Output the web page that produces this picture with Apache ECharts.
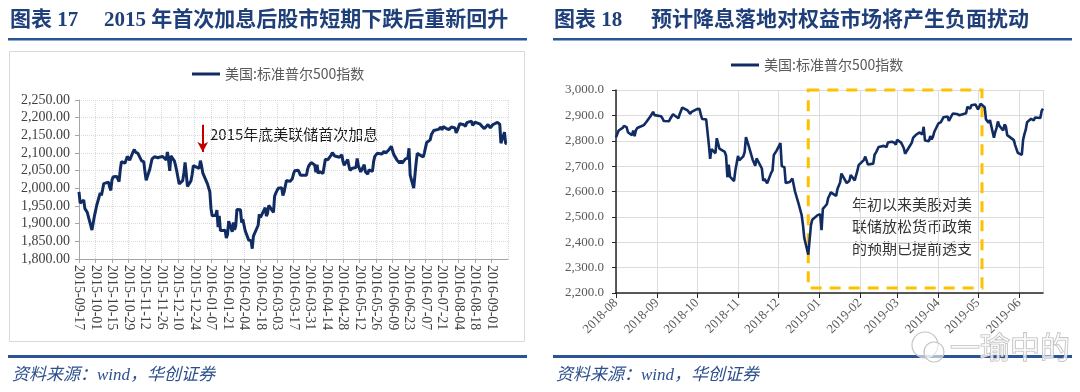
<!DOCTYPE html>
<html><head><meta charset="utf-8">
<script src="https://cdn.jsdelivr.net/npm/echarts@6/dist/echarts.min.js"></script>
<style>html,body{margin:0;padding:0;background:#fff}#c{width:1080px;height:392px}</style>
</head><body><div id="c"></div>
<script>
// ---------------- data ----------------
const seriesName = '美国:标准普尔500指数';
const leftTitleNo = '图表 17';
const leftTitle = '2015 年首次加息后股市短期下跌后重新回升';
const rightTitleNo = '图表 18';
const rightTitle = '预计降息落地对权益市场将产生负面扰动';
const sourceText = '资料来源：wind，华创证券';
const leftNote = '2015年底美联储首次加息';
const rightNote = ['年初以来美股对美', '联储放松货币政策', '的预期已提前透支'];
const watermark = '一瑜中的';

const leftStart = '2015-09-17';
const leftDates = ['2015-09-17','2015-09-18','2015-09-21','2015-09-22','2015-09-23','2015-09-24','2015-09-25','2015-09-28','2015-09-29','2015-09-30',
'2015-10-01','2015-10-02','2015-10-05','2015-10-06','2015-10-07','2015-10-08','2015-10-09','2015-10-12','2015-10-13','2015-10-14','2015-10-15','2015-10-16','2015-10-19','2015-10-20','2015-10-21','2015-10-22','2015-10-23','2015-10-26','2015-10-27','2015-10-28','2015-10-29','2015-10-30',
'2015-11-02','2015-11-03','2015-11-04','2015-11-05','2015-11-06','2015-11-09','2015-11-10','2015-11-11','2015-11-12','2015-11-13','2015-11-16','2015-11-17','2015-11-18','2015-11-19','2015-11-20','2015-11-23','2015-11-24','2015-11-25','2015-11-27','2015-11-30',
'2015-12-01','2015-12-02','2015-12-03','2015-12-04','2015-12-07','2015-12-08','2015-12-09','2015-12-10','2015-12-11','2015-12-14','2015-12-15','2015-12-16','2015-12-17','2015-12-18','2015-12-21','2015-12-22','2015-12-23','2015-12-24','2015-12-28','2015-12-29','2015-12-30','2015-12-31',
'2016-01-04','2016-01-05','2016-01-06','2016-01-07','2016-01-08','2016-01-11','2016-01-12','2016-01-13','2016-01-14','2016-01-15','2016-01-19','2016-01-20','2016-01-21','2016-01-22','2016-01-25','2016-01-26','2016-01-27','2016-01-28','2016-01-29',
'2016-02-01','2016-02-02','2016-02-03','2016-02-04','2016-02-05','2016-02-08','2016-02-09','2016-02-10','2016-02-11','2016-02-12','2016-02-16','2016-02-17','2016-02-18','2016-02-19','2016-02-22','2016-02-23','2016-02-24','2016-02-25','2016-02-26','2016-02-29',
'2016-03-01','2016-03-02','2016-03-03','2016-03-04','2016-03-07','2016-03-08','2016-03-09','2016-03-10','2016-03-11','2016-03-14','2016-03-15','2016-03-16','2016-03-17','2016-03-18','2016-03-21','2016-03-22','2016-03-23','2016-03-24','2016-03-28','2016-03-29','2016-03-30','2016-03-31',
'2016-04-01','2016-04-04','2016-04-05','2016-04-06','2016-04-07','2016-04-08','2016-04-11','2016-04-12','2016-04-13','2016-04-14','2016-04-15','2016-04-18','2016-04-19','2016-04-20','2016-04-21','2016-04-22','2016-04-25','2016-04-26','2016-04-27','2016-04-28','2016-04-29',
'2016-05-02','2016-05-03','2016-05-04','2016-05-05','2016-05-06','2016-05-09','2016-05-10','2016-05-11','2016-05-12','2016-05-13','2016-05-16','2016-05-17','2016-05-18','2016-05-19','2016-05-20','2016-05-23','2016-05-24','2016-05-25','2016-05-26','2016-05-27','2016-05-31',
'2016-06-01','2016-06-02','2016-06-03','2016-06-06','2016-06-07','2016-06-08','2016-06-09','2016-06-10','2016-06-13','2016-06-14','2016-06-15','2016-06-16','2016-06-17','2016-06-20','2016-06-21','2016-06-22','2016-06-23','2016-06-24','2016-06-27','2016-06-28','2016-06-29','2016-06-30',
'2016-07-01','2016-07-05','2016-07-06','2016-07-07','2016-07-08','2016-07-11','2016-07-12','2016-07-13','2016-07-14','2016-07-15','2016-07-18','2016-07-19','2016-07-20','2016-07-21','2016-07-22','2016-07-25','2016-07-26','2016-07-27','2016-07-28','2016-07-29',
'2016-08-01','2016-08-02','2016-08-03','2016-08-04','2016-08-05','2016-08-08','2016-08-09','2016-08-10','2016-08-11','2016-08-12','2016-08-15','2016-08-16','2016-08-17','2016-08-18','2016-08-19','2016-08-22','2016-08-23','2016-08-24','2016-08-25','2016-08-26','2016-08-29','2016-08-30','2016-08-31',
'2016-09-01','2016-09-02','2016-09-06','2016-09-07','2016-09-08','2016-09-09','2016-09-12','2016-09-13','2016-09-14'];
const leftValues = [1990.2,1958.0,1967.0,1942.7,1938.8,1932.2,1931.3,1881.8,1884.1,1920.0,
1923.8,1951.4,1987.1,1979.9,1995.8,2013.4,2014.9,2017.5,2003.7,1994.2,2023.9,2033.1,2033.7,2030.8,2018.9,2052.5,2075.2,2071.2,2065.9,2090.4,2089.4,2079.4,
2104.1,2109.8,2102.3,2099.9,2099.2,2078.6,2081.7,2075.0,2046.0,2023.0,2053.2,2050.4,2083.6,2081.2,2089.2,2086.6,2089.1,2088.9,2090.1,2080.4,
2102.6,2079.5,2049.6,2091.7,2077.1,2063.6,2047.6,2052.2,2012.4,2021.9,2043.4,2073.1,2041.9,2005.6,2021.2,2039.0,2064.3,2061.0,2056.5,2078.4,2063.4,2043.9,
2012.7,2016.7,1990.3,1943.1,1922.0,1923.7,1938.7,1890.3,1921.8,1880.3,1881.3,1859.3,1869.0,1906.9,1877.1,1903.6,1883.0,1893.4,1940.2,
1939.4,1903.0,1912.5,1915.5,1880.1,1853.4,1852.2,1851.9,1829.1,1864.8,1895.6,1926.8,1917.8,1917.8,1945.5,1921.3,1929.8,1951.7,1948.1,1932.2,
1978.4,1986.5,1993.4,2000.0,2001.8,1979.3,1989.3,1989.6,2022.2,2019.6,2015.9,2027.2,2040.6,2049.6,2051.6,2049.8,2036.7,2035.9,2037.1,2055.0,2064.0,2059.7,
2072.8,2066.1,2045.2,2066.7,2041.9,2047.6,2042.0,2061.7,2082.4,2082.8,2080.7,2094.3,2100.8,2102.4,2091.5,2091.6,2087.8,2091.7,2095.2,2075.8,2065.3,
2081.4,2063.4,2051.1,2050.6,2057.1,2058.7,2084.4,2064.5,2064.1,2046.6,2066.7,2047.2,2047.6,2040.0,2052.3,2048.0,2076.1,2090.5,2090.1,2099.1,2097.0,
2099.3,2105.3,2099.1,2109.4,2112.1,2119.1,2115.5,2096.1,2079.1,2075.3,2071.5,2078.0,2071.2,2083.3,2088.9,2085.5,2113.3,2037.4,2000.5,2036.1,2070.8,2098.9,
2103.0,2088.6,2099.7,2097.9,2129.9,2137.2,2152.1,2152.4,2163.8,2161.7,2166.9,2163.8,2173.0,2165.2,2175.0,2168.5,2169.2,2166.6,2170.1,2173.6,
2170.8,2157.0,2163.8,2164.3,2182.9,2180.9,2181.7,2175.5,2185.8,2184.1,2190.2,2178.2,2182.2,2187.0,2183.9,2182.6,2186.9,2175.4,2172.5,2169.0,2180.4,2176.1,2171.0,
2170.9,2180.0,2186.5,2186.2,2181.3,2127.8,2159.0,2127.0,2125.8];

const rightDates = ['2018-08-01','2018-08-02','2018-08-03','2018-08-06','2018-08-07','2018-08-08','2018-08-09','2018-08-10','2018-08-13','2018-08-14','2018-08-15','2018-08-16','2018-08-17','2018-08-20','2018-08-21','2018-08-22','2018-08-23','2018-08-24','2018-08-27','2018-08-28','2018-08-29','2018-08-30','2018-08-31',
'2018-09-04','2018-09-05','2018-09-06','2018-09-07','2018-09-10','2018-09-11','2018-09-12','2018-09-13','2018-09-14','2018-09-17','2018-09-18','2018-09-19','2018-09-20','2018-09-21','2018-09-24','2018-09-25','2018-09-26','2018-09-27','2018-09-28',
'2018-10-01','2018-10-02','2018-10-03','2018-10-04','2018-10-05','2018-10-08','2018-10-09','2018-10-10','2018-10-11','2018-10-12','2018-10-15','2018-10-16','2018-10-17','2018-10-18','2018-10-19','2018-10-22','2018-10-23','2018-10-24','2018-10-25','2018-10-26','2018-10-29','2018-10-30','2018-10-31',
'2018-11-01','2018-11-02','2018-11-05','2018-11-06','2018-11-07','2018-11-08','2018-11-09','2018-11-12','2018-11-13','2018-11-14','2018-11-15','2018-11-16','2018-11-19','2018-11-20','2018-11-21','2018-11-23','2018-11-26','2018-11-27','2018-11-28','2018-11-29','2018-11-30',
'2018-12-03','2018-12-04','2018-12-06','2018-12-07','2018-12-10','2018-12-11','2018-12-12','2018-12-13','2018-12-14','2018-12-17','2018-12-18','2018-12-19','2018-12-20','2018-12-21','2018-12-24','2018-12-26','2018-12-27','2018-12-28','2018-12-31',
'2019-01-02','2019-01-03','2019-01-04','2019-01-07','2019-01-08','2019-01-09','2019-01-10','2019-01-11','2019-01-14','2019-01-15','2019-01-16','2019-01-17','2019-01-18','2019-01-22','2019-01-23','2019-01-24','2019-01-25','2019-01-28','2019-01-29','2019-01-30','2019-01-31',
'2019-02-01','2019-02-04','2019-02-05','2019-02-06','2019-02-07','2019-02-08','2019-02-11','2019-02-12','2019-02-13','2019-02-14','2019-02-15','2019-02-19','2019-02-20','2019-02-21','2019-02-22','2019-02-25','2019-02-26','2019-02-27','2019-02-28',
'2019-03-01','2019-03-04','2019-03-05','2019-03-06','2019-03-07','2019-03-08','2019-03-11','2019-03-12','2019-03-13','2019-03-14','2019-03-15','2019-03-18','2019-03-19','2019-03-20','2019-03-21','2019-03-22','2019-03-25','2019-03-26','2019-03-27','2019-03-28','2019-03-29',
'2019-04-01','2019-04-02','2019-04-03','2019-04-04','2019-04-05','2019-04-08','2019-04-09','2019-04-10','2019-04-11','2019-04-12','2019-04-15','2019-04-16','2019-04-17','2019-04-18','2019-04-22','2019-04-23','2019-04-24','2019-04-25','2019-04-26','2019-04-29','2019-04-30',
'2019-05-01','2019-05-02','2019-05-03','2019-05-06','2019-05-07','2019-05-08','2019-05-09','2019-05-10','2019-05-13','2019-05-14','2019-05-15','2019-05-16','2019-05-17','2019-05-20','2019-05-21','2019-05-22','2019-05-23','2019-05-24','2019-05-28','2019-05-29','2019-05-30','2019-05-31',
'2019-06-03','2019-06-04','2019-06-05','2019-06-06','2019-06-07','2019-06-10','2019-06-11','2019-06-12','2019-06-13','2019-06-14','2019-06-17','2019-06-18','2019-06-19'];
const rightValues = [2813.4,2827.2,2840.4,2850.4,2858.5,2857.7,2853.6,2833.3,2821.9,2840.0,2818.4,2840.7,2850.1,2857.1,2863.0,2861.8,2857.0,2874.7,2896.7,2897.5,2914.0,2901.1,2901.5,
2896.7,2888.6,2878.1,2871.7,2877.1,2887.9,2888.9,2904.2,2905.0,2888.8,2904.3,2908.0,2930.8,2929.7,2919.4,2915.6,2906.0,2914.0,2914.0,
2924.6,2923.4,2925.5,2901.6,2885.6,2884.4,2880.3,2785.7,2728.4,2767.1,2750.8,2809.9,2809.2,2768.8,2767.8,2755.9,2740.7,2656.1,2705.6,2658.7,2641.3,2682.6,2711.7,
2740.4,2723.1,2738.3,2755.5,2813.9,2806.8,2781.0,2726.2,2722.2,2701.6,2730.2,2736.3,2690.7,2641.9,2649.9,2632.6,2673.5,2682.2,2743.8,2737.8,2760.2,
2790.4,2700.1,2696.0,2633.1,2637.7,2636.8,2651.1,2650.5,2600.0,2545.9,2546.2,2507.0,2467.4,2416.6,2351.1,2467.7,2488.8,2485.7,2506.9,
2510.0,2447.9,2531.9,2549.7,2574.4,2585.0,2596.6,2596.3,2582.6,2610.3,2616.1,2636.0,2670.7,2632.9,2638.7,2642.3,2664.8,2643.9,2640.0,2681.1,2704.1,
2706.5,2724.9,2737.7,2731.6,2706.1,2707.9,2709.8,2744.7,2753.0,2745.7,2775.6,2779.8,2784.7,2774.9,2792.7,2796.1,2793.9,2792.4,2784.5,
2803.7,2792.8,2789.7,2771.5,2748.9,2743.1,2783.3,2791.5,2810.9,2808.5,2822.5,2832.9,2832.6,2824.2,2854.9,2800.7,2798.4,2818.5,2805.4,2815.4,2834.4,
2867.2,2867.2,2873.4,2879.4,2892.7,2895.8,2878.2,2888.2,2888.3,2907.4,2905.6,2907.1,2900.5,2905.0,2908.0,2933.7,2927.3,2926.2,2939.9,2943.0,2945.8,
2923.7,2917.5,2945.6,2932.5,2884.1,2879.4,2870.7,2881.4,2811.9,2834.4,2851.0,2876.3,2859.5,2840.2,2864.4,2856.3,2822.2,2826.1,2802.4,2783.0,2788.9,2752.1,
2744.5,2803.3,2826.2,2843.5,2873.3,2886.7,2885.7,2879.8,2891.6,2887.0,2889.7,2917.8,2926.5];

// annotation anchors (data space)
const leftArrowDay = 105, leftArrowTop = 2180, leftArrowTip = 2103;
const boxStart = '2018-12-24', boxEnd = '2019-05-04', boxTop = 3007, boxBottom = 2220;

// ---------------- build ----------------
const DAY = 86400000;
const startMs = Date.parse(leftStart);
const dayOffset = d => Math.round((Date.parse(d) - startMs) / DAY);
const leftData = leftDates.map((d, i) => [dayOffset(d), leftValues[i]]);
const rightData = rightDates.map((d, i) => [d, rightValues[i]]);

const navy = '#112c63';
const titleBlue = '#1f3f7a';
const ruleBlue = '#2a5495';
const serif = '"Liberation Serif","Noto Sans CJK SC",serif';
const cjk = '"Noto Sans CJK SC","Liberation Sans",sans-serif';
const fmtThousands = s => s.replace(/\B(?=(\d{3})+(?!\d))/, ',');

const chart = echarts.init(document.getElementById('c'), null, {renderer: 'canvas'});
const legendBase = {
  data: [seriesName], icon: 'rect', itemWidth: 28, itemHeight: 3, itemGap: 5,
  textStyle: {fontFamily: cjk, fontSize: 14, color: '#595959'}, selectedMode: false
};
chart.setOption({
  animation: false,
  backgroundColor: '#fff',
  legend: [
    Object.assign({left: 187, top: 62}, legendBase),
    Object.assign({left: 726, top: 53}, legendBase)
  ],
  grid: [
    {left: 79, right: 572, top: 100, bottom: 133, containLabel: false, outerBoundsMode: 'none'},
    {left: 616, right: 37, top: 90, bottom: 99, containLabel: false, outerBoundsMode: 'none'}
  ],
  xAxis: [
    {
      gridIndex: 0, type: 'value', min: 0, max: 364, interval: 14,
      axisLine: {show: true, lineStyle: {color: '#a6a6a6', width: 1}},
      axisTick: {show: true, length: 4, lineStyle: {color: '#a6a6a6'}},
      splitLine: {show: true, lineStyle: {color: '#d9d9d9', type: 'dotted'}},
      axisLabel: {
        rotate: -90, margin: 6, fontFamily: serif, fontSize: 14, color: '#404040',
        showMaxLabel: false,
        formatter: v => new Date(startMs + v * DAY).toISOString().slice(0, 10)
      }
    },
    {
      gridIndex: 1, type: 'time', min: '2018-08-01', max: rightDates[rightDates.length - 1],
      minInterval: 28 * DAY, maxInterval: 31 * DAY, splitNumber: 11,
      axisLine: {show: true, lineStyle: {color: '#262626', width: 1.5}},
      axisTick: {show: true, length: 5, lineStyle: {color: '#262626'}},
      splitLine: {show: true, lineStyle: {color: '#dcdcdc', type: 'solid'}},
      axisLabel: {
        rotate: 45, margin: 8, fontFamily: serif, fontSize: 13, color: '#595959',
        formatter: '{yyyy}-{MM}', showMinLabel: true, showMaxLabel: false
      }
    }
  ],
  yAxis: [
    {
      gridIndex: 0, type: 'value', min: 1800, max: 2250, interval: 50,
      axisLine: {show: true, lineStyle: {color: '#a6a6a6'}},
      axisTick: {show: true, length: 4, lineStyle: {color: '#a6a6a6'}},
      splitLine: {show: true, lineStyle: {color: '#d9d9d9', type: 'dotted'}},
      axisLabel: {margin: 9, fontFamily: serif, fontSize: 14, color: '#404040',
        formatter: v => fmtThousands(v.toFixed(2))}
    },
    {
      gridIndex: 1, type: 'value', min: 2200, max: 3000, interval: 100,
      axisLine: {show: true, lineStyle: {color: '#262626', width: 1.5}},
      axisTick: {show: true, length: 4, lineStyle: {color: '#262626'}},
      splitLine: {show: true, lineStyle: {color: '#dcdcdc'}},
      axisLabel: {margin: 12, fontFamily: serif, fontSize: 13, color: '#595959',
        formatter: v => fmtThousands(v.toFixed(1))}
    }
  ],
  series: [
    {
      name: seriesName, type: 'line', xAxisIndex: 0, yAxisIndex: 0, data: leftData,
      showSymbol: false, symbol: 'none', lineStyle: {color: navy, width: 3}, itemStyle: {color: navy},
      markLine: {
        silent: true, symbol: ['none', 'arrow'], symbolSize: [8, 10],
        label: {show: false},
        lineStyle: {color: '#c00000', width: 2, type: 'solid'},
        data: [[{coord: [leftArrowDay, leftArrowTop]}, {coord: [leftArrowDay, leftArrowTip]}]]
      }
    },
    {
      name: seriesName, type: 'line', xAxisIndex: 1, yAxisIndex: 1, data: rightData, clip: false,
      showSymbol: false, symbol: 'none', lineStyle: {color: navy, width: 2.6}, itemStyle: {color: navy},
      markArea: {
        silent: true,
        itemStyle: {color: 'rgba(0,0,0,0)', borderColor: '#ffc000', borderWidth: 3, borderType: [11, 8]},
        label: {show: false},
        data: [[{coord: [boxStart, boxTop]}, {coord: [boxEnd, boxBottom]}]]
      }
    }
  ],
  graphic: {elements: [
    // left panel frame
    {type: 'rect', shape: {x: 9.5, y: 51.5, width: 515, height: 290}, style: {fill: 'none', stroke: '#d9d9d9', lineWidth: 1}, z: 0, silent: true},
    // titles
    {type: 'text', x: 10, y: 21, style: {text: leftTitleNo, font: 'bold 21px ' + serif, fill: titleBlue, textVerticalAlign: 'middle'}},
    {type: 'text', x: 104, y: 21, style: {text: leftTitle, font: 'bold 21px ' + serif, fill: titleBlue, textVerticalAlign: 'middle'}},
    {type: 'text', x: 554, y: 21, style: {text: rightTitleNo, font: 'bold 21px ' + serif, fill: titleBlue, textVerticalAlign: 'middle'}},
    {type: 'text', x: 651, y: 21, style: {text: rightTitle, font: 'bold 21px ' + serif, fill: titleBlue, textVerticalAlign: 'middle'}},
    // rules
    {type: 'rect', shape: {x: 8, y: 38, width: 519, height: 2.5}, style: {fill: ruleBlue}},
    {type: 'rect', shape: {x: 553, y: 38, width: 519, height: 2.5}, style: {fill: ruleBlue}},
    {type: 'rect', shape: {x: 8, y: 355, width: 519, height: 3}, style: {fill: ruleBlue}},
    {type: 'rect', shape: {x: 553, y: 355, width: 519, height: 3}, style: {fill: ruleBlue}},
    // source
    {type: 'text', x: 12, y: 376, style: {text: sourceText, font: 'italic 17px ' + serif, fill: '#2a4f8d', textVerticalAlign: 'middle'}},
    {type: 'text', x: 556, y: 376, style: {text: sourceText, font: 'italic 17px ' + serif, fill: '#2a4f8d', textVerticalAlign: 'middle'}},
    // annotations
    {type: 'text', x: 210, y: 134, style: {text: leftNote, font: '15px ' + cjk, fill: '#1a1a1a', textVerticalAlign: 'middle'}},
    {type: 'text', x: 852, y: 226, style: {text: rightNote.join('\n'), font: '15px ' + cjk, fill: '#333333', lineHeight: 22, textVerticalAlign: 'middle'}},
    // watermark
    {type: 'circle', shape: {cx: 925, cy: 345, r: 13}, style: {fill: 'rgba(255,255,255,0.6)', stroke: '#c4c4c4', lineWidth: 1.2}},
    {type: 'circle', shape: {cx: 934, cy: 352, r: 10}, style: {fill: 'rgba(255,255,255,0.6)', stroke: '#c4c4c4', lineWidth: 1.2}},
    {type: 'text', x: 950, y: 347, style: {text: watermark, font: '30px ' + cjk, fill: 'rgba(255,255,255,0.7)', stroke: '#b5b5b5', lineWidth: 1.2, textVerticalAlign: 'middle'}}
  ]}
});
</script>
</body></html>
